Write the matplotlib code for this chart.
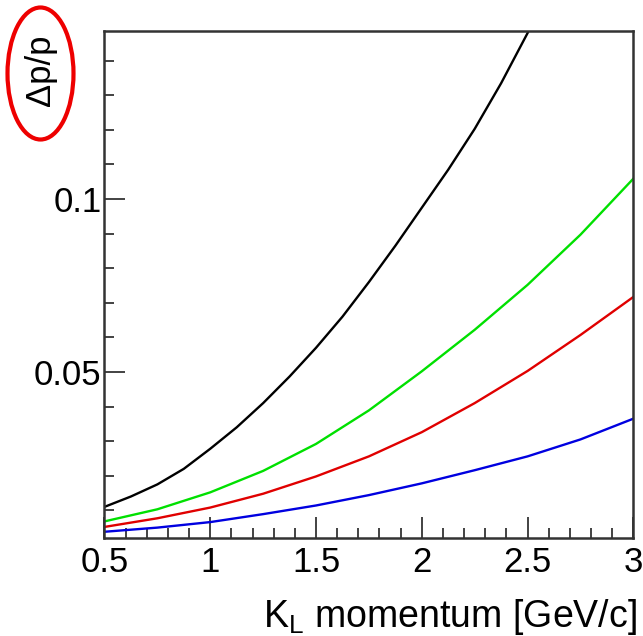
import matplotlib
matplotlib.use("Agg")
import matplotlib.pyplot as plt
from matplotlib.patches import Ellipse
from matplotlib.ticker import MultipleLocator

# momentum points [GeV/c]
p = [0.5, 0.75, 1.0, 1.25, 1.5, 1.75, 2.0, 2.25, 2.5, 2.75, 3.0]

# black curve is steep, read more densely; it leaves the frame near p = 2.5
p_black = [0.5, 0.625, 0.75, 0.875, 1.0, 1.125, 1.25, 1.375, 1.5, 1.625,
           1.75, 1.875, 2.0, 2.125, 2.25, 2.375, 2.5, 2.625]
res_black = [0.0110, 0.0140, 0.0175, 0.0220, 0.0278, 0.0340, 0.0410, 0.0487, 0.0570, 0.0660,
             0.0760, 0.0865, 0.0975, 0.1085, 0.1203, 0.1335, 0.1480, 0.1630]

res_green = [0.0068, 0.0103, 0.0152, 0.0214, 0.0292, 0.0389, 0.0502, 0.0622, 0.0752, 0.0897, 0.1059]
res_red = [0.0052, 0.0077, 0.0108, 0.0148, 0.0198, 0.0256, 0.0326, 0.0410, 0.0503, 0.0607, 0.0717]
res_blue = [0.0038, 0.0050, 0.0066, 0.0089, 0.0114, 0.0144, 0.0178, 0.0216, 0.0256, 0.0305, 0.0365]

xticks = [0.5, 1, 1.5, 2, 2.5, 3]
xticklabels = ["0.5", "1", "1.5", "2", "2.5", "3"]
yticks = [0.05, 0.1]
yticklabels = ["0.05", "0.1"]

plt.rcParams['font.family'] = ['Liberation Sans', 'DejaVu Sans']

fig = plt.figure(figsize=(6.43, 6.36), dpi=100)
ax = fig.add_axes([0.1625, 0.1541, 0.985 - 0.1625, 0.9513 - 0.1541])

ax.plot(p_black, res_black, color="black", lw=1.7)
ax.plot(p, res_green, color="#00e000", lw=1.7)
ax.plot(p, res_red, color="#e00000", lw=1.7)
ax.plot(p, res_blue, color="#0000e0", lw=1.7)

ax.set_xlim(0.5, 3.0)
ax.set_ylim(0.002, 0.1486)

ax.set_xticks(xticks)
ax.set_xticklabels(xticklabels)
ax.set_yticks(yticks)
ax.set_yticklabels(yticklabels)
ax.xaxis.set_minor_locator(MultipleLocator(0.1))
ax.yaxis.set_minor_locator(MultipleLocator(0.01))

ax.tick_params(which="both", direction="in", top=False, right=False, width=1.2, colors="#222222")
ax.tick_params(which="major", length=15, labelsize=25, labelcolor="black")
ax.tick_params(axis="x", which="major", pad=6)
ax.tick_params(axis="y", which="major", pad=2)
ax.tick_params(which="minor", length=7)

for s in ax.spines.values():
    s.set_linewidth(1.8)
    s.set_color("#333333")

# axis titles, ROOT style: y title at top, x title at right
fig.text(0.99, 0.0142, "K$_\\mathregular{L}$ momentum [GeV/c]", ha="right", va="baseline", fontsize=27)
fig.text(40 / 643, 1 - 70 / 636, "Δp/p", rotation=90, ha="center", va="center", fontsize=25)

# red ring drawn around the y title
ring = Ellipse((40.5 / 643, 1 - 73.5 / 636), 66 / 643, 132 / 636, transform=fig.transFigure,
               fill=False, edgecolor="#ee0000", lw=3.0)
fig.patches.append(ring)

fig.savefig("out.png", dpi=100)
